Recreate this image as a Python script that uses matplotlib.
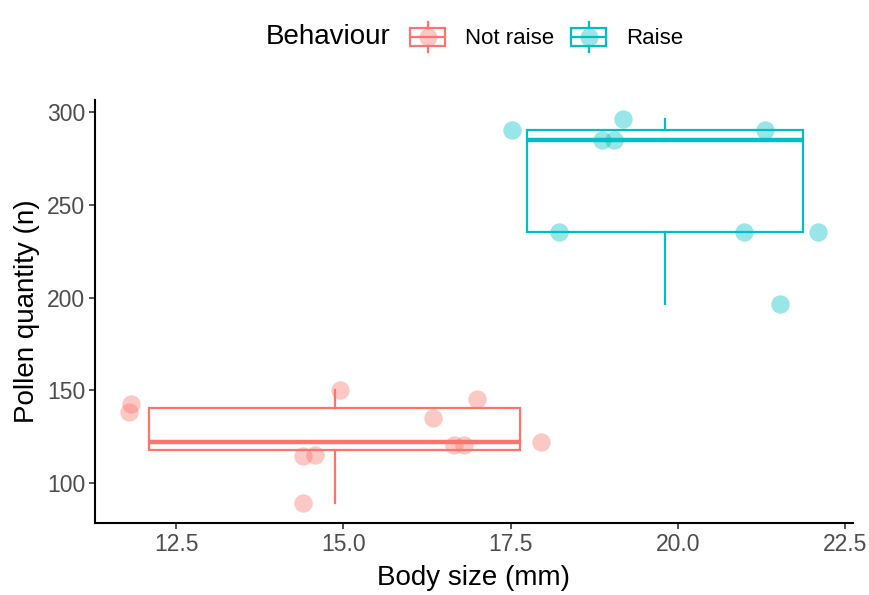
#Grafico de caja: polen contra tamano del cuerpo
import matplotlib
matplotlib.use("Agg")
import matplotlib.pyplot as plt
import numpy as np
from matplotlib.legend_handler import HandlerBase
from matplotlib.patches import Rectangle
from matplotlib.lines import Line2D

plt.rcParams['font.family'] = ['Liberation Sans', 'DejaVu Sans']

grupos = ["Not raise", "Raise"]
colores = ["#F8766D", "#00BFC4"]

# tamano del cuerpo (mm) y cantidad de polen (n)
tamanoNoSube = [11.82, 11.79, 14.95, 14.39, 14.57, 14.39, 16.34, 16.99, 16.65, 16.80, 17.95]
polenNoSube = [142.9, 138.4, 150.4, 114.6, 115.4, 89.6, 135.4, 145.4, 120.4, 120.4, 122.5]

tamanoSube = [17.52, 19.18, 18.86, 19.05, 21.30, 18.23, 20.99, 22.10, 21.52]
polenSube = [290.0, 296.1, 284.8, 284.8, 290.0, 235.1, 235.1, 235.1, 196.4]

ejeX = [tamanoNoSube, tamanoSube]
ejeY = [polenNoSube, polenSube]


class CajaLeyenda(HandlerBase):
    def create_artists(self, legend, orig_handle, xdescent, ydescent, width, height, fontsize, trans):
        c = orig_handle.get_color()
        x0 = -xdescent
        y0 = -ydescent
        alto = height * 0.62
        by = y0 + (height - alto) / 2
        caja = Rectangle((x0, by), width, alto, facecolor="white", edgecolor=c, lw=1.6, transform=trans)
        mediana = Line2D([x0, x0 + width], [y0 + height / 2] * 2, color=c, lw=1.6, transform=trans)
        arriba = Line2D([x0 + width / 2] * 2, [by + alto, y0 + height], color=c, lw=1.6, transform=trans)
        abajo = Line2D([x0 + width / 2] * 2, [y0, by], color=c, lw=1.6, transform=trans)
        punto = Line2D([x0 + width / 2], [y0 + height / 2], marker="o", ms=13, color=c, alpha=0.4,
                       lw=0, markeredgewidth=0, transform=trans)
        return [caja, mediana, arriba, abajo, punto]


fig = plt.figure(figsize=(8.69, 5.95), dpi=100)
ax = fig.add_axes([0.1093, 0.121, 0.872, 0.711])

for i in range(len(grupos)):
    x = np.array(ejeX[i])
    y = np.array(ejeY[i])
    # como ggplot: la caja va en el centro del rango de x, ancho 0.9 del rango
    centro = (x.min() + x.max()) / 2
    ancho = 0.9 * (x.max() - x.min())
    c = colores[i]
    ax.boxplot([y], positions=[centro], widths=[ancho], whis=1.5, showcaps=False,
               showfliers=False, patch_artist=True, manage_ticks=False,
               boxprops=dict(facecolor="white", edgecolor=c, linewidth=1.6),
               whiskerprops=dict(color=c, linewidth=1.6),
               medianprops=dict(color=c, linewidth=3.2),
               zorder=2)
    ax.scatter(x, y, s=175, color=c, alpha=0.4, linewidths=0, zorder=3)

ax.set_xlim(11.285, 22.615)
ax.set_ylim(78.65, 306.35)
ax.set_xticks([12.5, 15.0, 17.5, 20.0, 22.5])
ax.set_xticklabels(["12.5", "15.0", "17.5", "20.0", "22.5"])
ax.set_yticks([100, 150, 200, 250, 300])

for lado in ["top", "right"]:
    ax.spines[lado].set_visible(False)
for lado in ["left", "bottom"]:
    ax.spines[lado].set_linewidth(1.5)
    ax.spines[lado].set_color("black")
ax.tick_params(axis="both", length=4, width=1.2, color="#333333", labelsize=16.5,
               labelcolor="#4D4D4D", pad=3)

ax.set_xlabel("Body size (mm)", fontsize=20, labelpad=7)
ax.set_ylabel("Pollen quantity (n)", fontsize=20, labelpad=5)

manijas = [Line2D([], [], color=c) for c in colores]
fig.text(391 / 869, 1 - 37 / 595, "Behaviour", fontsize=20, ha="right", va="center")
fig.legend(manijas, grupos, handler_map={Line2D: CajaLeyenda()}, loc="center left",
           bbox_to_anchor=(410 / 869, 1 - 37 / 595), ncol=2, frameon=False, fontsize=16,
           borderpad=0, borderaxespad=0, handlelength=1.58, handleheight=1.67,
           handletextpad=0.9, columnspacing=0.77)

plt.savefig("out.png", dpi=100)
